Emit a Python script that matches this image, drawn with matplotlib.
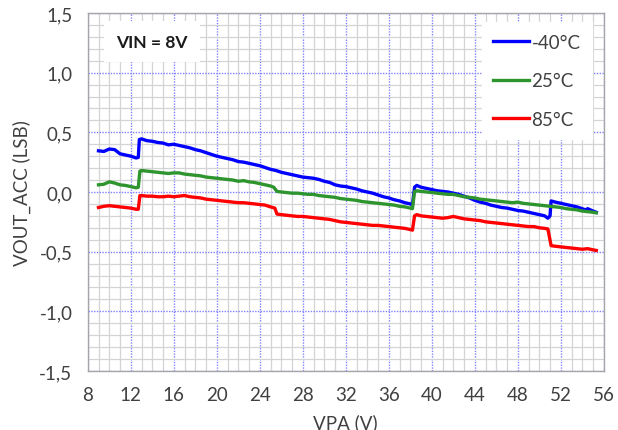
import matplotlib
matplotlib.use("Agg")
import matplotlib.pyplot as plt
from matplotlib.ticker import MultipleLocator, FuncFormatter

plt.rcParams['font.family'] = ['Lato', 'DejaVu Sans']

# ---- data ----
blue_x = [9.0, 9.5, 10.0, 10.5, 11.0, 11.5, 12.0, 12.5, 12.7, 12.8, 13.0, 13.5, 14.0, 14.5, 15.0, 15.5,
          16.0, 16.5, 17.0, 17.5, 18.0, 18.5, 19.0, 19.5, 20.0, 20.5, 21.0, 21.5, 22.0, 22.5, 23.0, 23.5,
          24.0, 24.5, 25.0, 25.5, 26.0, 26.5, 27.0, 27.5, 28.0, 28.5, 29.0, 29.5, 30.0, 30.5, 31.0, 31.5,
          32.0, 32.5, 33.0, 33.5, 34.0, 34.5, 35.0, 35.5, 36.0, 36.5, 37.0, 37.5, 38.0, 38.2, 38.4, 38.6,
          39.0, 39.5, 40.0, 40.5, 41.0, 41.5, 42.0, 42.5, 43.0, 43.5, 44.0, 44.5, 45.0, 45.5, 46.0, 46.5,
          47.0, 47.5, 48.0, 48.5, 49.0, 49.5, 50.0, 50.5, 50.8, 51.0, 51.1, 51.5, 52.0, 52.5, 53.0, 53.5,
          54.0, 54.3, 54.5, 55.0, 55.3]
blue_y = [0.345, 0.34, 0.36, 0.355, 0.32, 0.31, 0.30, 0.285, 0.29, 0.44, 0.445, 0.43, 0.425, 0.415, 0.41, 0.395,
          0.40, 0.39, 0.38, 0.37, 0.355, 0.345, 0.33, 0.315, 0.30, 0.29, 0.28, 0.27, 0.255, 0.25, 0.24, 0.23,
          0.22, 0.205, 0.19, 0.18, 0.165, 0.155, 0.145, 0.135, 0.125, 0.12, 0.115, 0.105, 0.09, 0.08, 0.06, 0.05,
          0.045, 0.035, 0.025, 0.01, 0.0, -0.01, -0.025, -0.04, -0.05, -0.065, -0.075, -0.09, -0.10, -0.11, 0.04, 0.055,
          0.04, 0.03, 0.02, 0.01, 0.005, 0.0, -0.01, -0.02, -0.035, -0.05, -0.07, -0.085, -0.095, -0.11, -0.12, -0.13,
          -0.135, -0.145, -0.155, -0.16, -0.17, -0.18, -0.19, -0.20, -0.22, -0.20, -0.075, -0.085, -0.095, -0.105, -0.115, -0.125,
          -0.14, -0.15, -0.14, -0.16, -0.17]

green_x = [9.0, 9.5, 10.0, 10.5, 11.0, 11.5, 12.0, 12.5, 12.7, 12.85, 13.0, 13.5, 14.0, 14.5, 15.0, 15.5,
           16.0, 16.5, 17.0, 17.5, 18.0, 18.5, 19.0, 19.5, 20.0, 20.5, 21.0, 21.5, 22.0, 22.5, 23.0, 23.5,
           24.0, 24.5, 25.0, 25.3, 25.6, 26.0, 26.5, 27.0, 27.5, 28.0, 28.5, 29.0, 29.5, 30.0, 30.5, 31.0,
           31.5, 32.0, 32.5, 33.0, 33.5, 34.0, 34.5, 35.0, 35.5, 36.0, 36.5, 37.0, 37.5, 38.0, 38.2, 38.4,
           38.6, 39.0, 39.5, 40.0, 40.5, 41.0, 41.5, 42.0, 42.5, 43.0, 43.5, 44.0, 44.5, 45.0, 45.5, 46.0,
           46.5, 47.0, 47.5, 48.0, 48.5, 49.0, 49.5, 50.0, 50.5, 51.0, 51.5, 52.0, 52.5, 53.0, 53.5, 54.0,
           54.5, 55.0, 55.3]
green_y = [0.06, 0.065, 0.085, 0.075, 0.06, 0.055, 0.045, 0.035, 0.04, 0.175, 0.18, 0.175, 0.17, 0.165, 0.16, 0.155,
           0.16, 0.16, 0.15, 0.145, 0.14, 0.135, 0.125, 0.12, 0.115, 0.11, 0.105, 0.10, 0.09, 0.095, 0.085, 0.08,
           0.07, 0.06, 0.05, 0.04, 0.005, 0.0, -0.005, -0.01, -0.01, -0.015, -0.02, -0.02, -0.03, -0.035, -0.04, -0.045,
           -0.055, -0.06, -0.065, -0.07, -0.08, -0.085, -0.09, -0.095, -0.10, -0.105, -0.11, -0.12, -0.125, -0.135, -0.14, 0.005,
           0.01, 0.005, 0.0, -0.005, -0.01, -0.015, -0.02, -0.02, -0.03, -0.04, -0.045, -0.05, -0.06, -0.065, -0.07, -0.075,
           -0.08, -0.085, -0.09, -0.085, -0.095, -0.10, -0.105, -0.11, -0.115, -0.12, -0.125, -0.13, -0.14, -0.145, -0.15, -0.16,
           -0.165, -0.17, -0.175]

red_x = [9.0, 9.5, 10.0, 10.5, 11.0, 11.5, 12.0, 12.5, 12.7, 12.85, 13.0, 13.5, 14.0, 14.5, 15.0, 15.5,
         16.0, 16.5, 17.0, 17.5, 18.0, 18.5, 19.0, 19.5, 20.0, 20.5, 21.0, 21.5, 22.0, 22.5, 23.0, 23.5,
         24.0, 24.5, 25.0, 25.4, 25.6, 26.0, 26.5, 27.0, 27.5, 28.0, 28.5, 29.0, 29.5, 30.0, 30.5, 31.0,
         31.5, 32.0, 32.5, 33.0, 33.5, 34.0, 34.5, 35.0, 35.5, 36.0, 36.5, 37.0, 37.5, 38.0, 38.2, 38.4,
         38.6, 39.0, 39.5, 40.0, 40.5, 41.0, 41.5, 42.0, 42.5, 43.0, 43.5, 44.0, 44.5, 45.0, 45.5, 46.0,
         46.5, 47.0, 47.5, 48.0, 48.5, 49.0, 49.5, 50.0, 50.5, 50.8, 51.1, 51.5, 52.0, 52.5, 53.0, 53.5,
         54.0, 54.5, 55.0, 55.3]
red_y = [-0.13, -0.12, -0.115, -0.12, -0.125, -0.13, -0.135, -0.145, -0.145, -0.03, -0.03, -0.035, -0.035, -0.04, -0.04, -0.035,
         -0.04, -0.035, -0.03, -0.04, -0.045, -0.05, -0.06, -0.065, -0.07, -0.075, -0.08, -0.085, -0.09, -0.09, -0.095, -0.10,
         -0.105, -0.11, -0.125, -0.135, -0.185, -0.19, -0.195, -0.20, -0.205, -0.205, -0.21, -0.215, -0.22, -0.225, -0.23, -0.24,
         -0.25, -0.255, -0.26, -0.265, -0.27, -0.275, -0.28, -0.28, -0.285, -0.29, -0.295, -0.30, -0.305, -0.315, -0.32, -0.20,
         -0.19, -0.20, -0.205, -0.21, -0.215, -0.22, -0.215, -0.205, -0.215, -0.225, -0.23, -0.235, -0.24, -0.25, -0.255, -0.26,
         -0.265, -0.27, -0.275, -0.28, -0.285, -0.29, -0.29, -0.30, -0.305, -0.31, -0.45, -0.455, -0.46, -0.465, -0.47, -0.475,
         -0.48, -0.475, -0.485, -0.49]

series_labels = ['-40°C', '25°C', '85°C']
x_ticks = [8, 12, 16, 20, 24, 28, 32, 36, 40, 44, 48, 52, 56]
y_ticks = [-1.5, -1.0, -0.5, 0.0, 0.5, 1.0, 1.5]

# ---- plot ----
txt = '#404040'
fs = 13.5
fig = plt.figure(figsize=(6.18, 4.31), dpi=100)
ax = fig.add_axes([0.142, 0.137, 0.835, 0.8305])

ax.plot(blue_x, blue_y, color='#0000ff', lw=2.4, label=series_labels[0], zorder=3)
ax.plot(green_x, green_y, color='#2e952e', lw=2.4, label=series_labels[1], zorder=3)
ax.plot(red_x, red_y, color='#ff0000', lw=2.4, label=series_labels[2], zorder=3)

ax.set_xlim(8, 56)
ax.set_ylim(-1.5, 1.5)
ax.set_xticks(x_ticks)
ax.set_yticks(y_ticks)
ax.xaxis.set_minor_locator(MultipleLocator(1))
ax.yaxis.set_minor_locator(MultipleLocator(0.1))
ax.yaxis.set_major_formatter(FuncFormatter(lambda v, p: f"{v:.1f}".replace('.', ',')))
ax.grid(which='minor', color='#d4d4d4', lw=0.9, zorder=0)
ax.grid(which='major', color='#8080ff', lw=1.0, ls=(0, (1, 1)), zorder=1)
ax.set_axisbelow(True)
ax.tick_params(which='both', length=0, colors=txt, labelsize=fs)
ax.tick_params(axis='x', pad=11)
ax.tick_params(axis='y', pad=11)
for s in ax.spines.values():
    s.set_color('#a6a6a6')
    s.set_linewidth(1.0)

ax.set_xlabel('VPA (V)', fontsize=fs, color=txt, labelpad=7)
ax.set_ylabel('VOUT_ACC (LSB)', fontsize=fs, color=txt, labelpad=6)

leg = ax.legend(loc='upper right', bbox_to_anchor=(0.995, 1.0), frameon=True, fontsize=fs,
                handlelength=1.9, handletextpad=0.15, labelspacing=1.15, borderpad=0.6,
                fancybox=False, edgecolor='white', framealpha=1.0)
for t in leg.get_texts():
    t.set_color(txt)

ax.text(0.125, 0.92, 'VIN = 8V', transform=ax.transAxes, fontsize=12.5, fontweight='bold',
        color='#1a1a1a', ha='center', va='center',
        bbox=dict(facecolor='white', edgecolor='none', boxstyle='square,pad=0.7'), zorder=4)

fig.savefig('out.png', dpi=100)
